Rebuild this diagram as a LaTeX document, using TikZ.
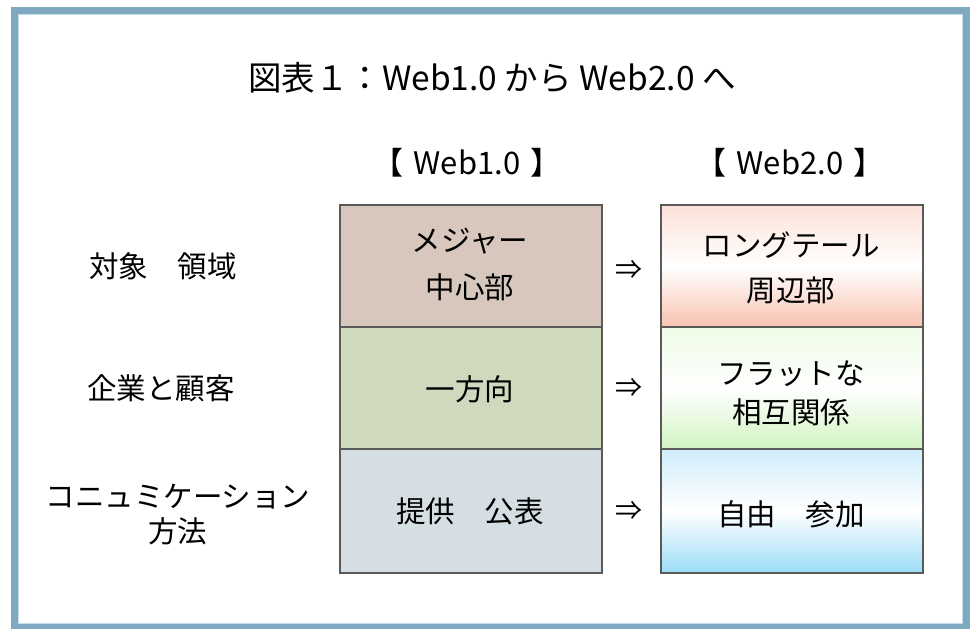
\documentclass[tikz,border=0pt]{standalone}
\usepackage{fontspec}
\setmainfont{Noto Sans CJK JP}
\definecolor{framec}{HTML}{7EA9C1}
\definecolor{framein}{HTML}{C6DDEA}
\definecolor{boxgray}{HTML}{5A5A5A}
\definecolor{lone}{HTML}{D7C7BD}
\definecolor{ltwo}{HTML}{CED9BD}
\definecolor{lthree}{HTML}{D5DEE2}
\definecolor{rone}{HTML}{F8C2B0}
\definecolor{ronetop}{HTML}{FCE2D8}
\definecolor{rtwo}{HTML}{D2F4C2}
\definecolor{rtwotop}{HTML}{EEFBE6}
\definecolor{rthree}{HTML}{9CDCF7}
\definecolor{rthreetop}{HTML}{CFEEFB}
\newcommand{\bodyfnt}{\fontsize{29.5}{47}\selectfont}
\begin{document}
\begin{tikzpicture}[x=1pt,y=-1pt,
  cell/.style={draw=boxgray, line width=2pt, minimum width=262pt, minimum height=122pt,
    inner sep=0pt, align=center, font=\bodyfnt, anchor=north west},
  lbl/.style={inner sep=0pt, align=center, font=\bodyfnt},
  hdr/.style={inner sep=0pt, font=\fontsize{31}{36}\selectfont},
  arr/.style={inner sep=0pt, font=\fontsize{27}{30}\selectfont}
]
\useasboundingbox (0,0) rectangle (970,629);
\fill[white] (0,0) rectangle (970,629);
% frame
\draw[framec, line width=7pt] (14.5,10.5) rectangle (966.5,627.5);
\draw[framein, line width=1pt] (18.5,14.5) rectangle (962.5,623.5);

% title
\node[inner sep=0pt, font=\fontsize{33.5}{38}\selectfont] (title) at (492,78) {図表１：Web1.0 から Web2.0 へ};

% headers
\node[hdr] (h1) at (467,163) {【\,\,Web1.0\,\,】};
\node[hdr] (h2) at (790,163) {【\,\,Web2.0\,\,】};

% left column cells
\node[cell, fill=lone] (l1) at (339,204) {};
\node[cell, fill=ltwo] (l2) at (339,326) {};
\node[cell, fill=lthree, minimum height=124pt] (l3) at (339,448) {};

% right column cells
\node[cell, top color=ronetop, bottom color=rone, middle color=white] (r1) at (660,204) {};
\node[cell, top color=rtwotop, bottom color=rtwo, middle color=white] (r2) at (660,326) {};
\node[cell, top color=rthreetop, bottom color=rthree, middle color=white, minimum height=124pt] (r3) at (660,448) {};

% cell texts
\node[lbl, font=\fontsize{29.5}{47}\selectfont] (t1) at (470,264) {メジャー\\中心部};
\node[lbl] (t2) at (470,389) {一方向};
\node[lbl] (t3) at (470,511) {提供　公表};
\node[lbl, font=\fontsize{29.5}{45}\selectfont] (u1) at (791,268) {ロングテール\\周辺部};
\node[lbl, font=\fontsize{29.5}{39}\selectfont] (u2) at (791,393) {フラットな\\相互関係};
\node[lbl] (u3) at (791,514) {自由　参加};

% row labels
\node[lbl] (k1) at (163,266) {対象　領域};
\node[lbl] (k2) at (161,388) {企業と顧客};
\node[lbl, font=\fontsize{29.5}{35}\selectfont] (k3) at (178,515) {コニュミケーション\\方法};

% arrows
\node[arr] (a1) at (629,270) {⇒};
\node[arr] (a2) at (629,388) {⇒};
\node[arr] (a3) at (629,511) {⇒};
\end{tikzpicture}
\end{document}
